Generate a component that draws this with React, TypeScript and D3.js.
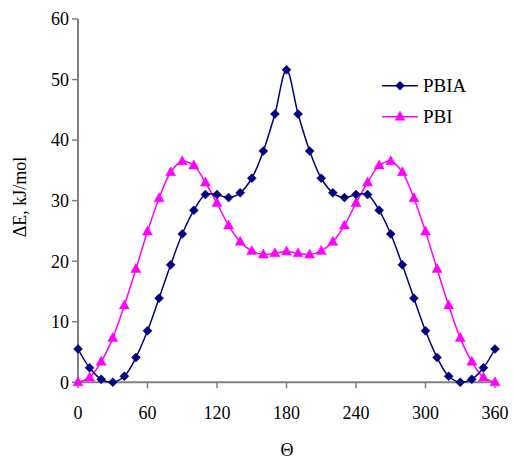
import React from "react";
import * as d3 from "d3";

const angles = [0,10,20,30,40,50,60,70,80,90,100,110,120,130,140,150,160,170,180,190,200,210,220,230,240,250,260,270,280,290,300,310,320,330,340,350,360];
const pbia = [5.5,2.4,0.5,0,1.0,4.1,8.5,13.9,19.4,24.5,28.4,31.0,31.0,30.5,31.3,33.7,38.2,44.3,51.6,44.3,38.2,33.7,31.3,30.5,31.0,31.0,28.4,24.5,19.4,13.9,8.5,4.1,1.0,0,0.5,2.4,5.5];
const pbi = [0,0.8,3.4,7.3,12.7,18.7,24.9,30.4,34.7,36.5,35.8,33.0,29.6,25.9,23.2,21.7,21.1,21.3,21.6,21.3,21.1,21.7,23.2,25.9,29.6,33.0,35.8,36.5,34.7,30.4,24.9,18.7,12.7,7.3,3.4,0.8,0];
const xTicks = [0,60,120,180,240,300,360];
const yTicks = [0,10,20,30,40,50,60];
const seriesNames = ["PBIA","PBI"];

export default function App() {
  const W = 513, H = 459;
  const x = d3.scaleLinear().domain([0, 360]).range([78, 495]);
  const y = d3.scaleLinear().domain([0, 60]).range([382.3, 19]);
  const line = d3.line<number>()
    .x((_, i) => x(angles[i]))
    .y((d) => y(d))
    .curve(d3.curveCatmullRom.alpha(0.5));
  const axisColor = "#808080";
  const ts = { fontFamily: '"Times New Roman", "Liberation Serif", "DejaVu Serif", serif' };
  const navy = "#000080";
  const mag = "#FF00FF";
  const diamond = (cx: number, cy: number, k: string | number) => (
    <path key={k} d={`M${cx},${cy - 4.5}L${cx + 4.5},${cy}L${cx},${cy + 4.5}L${cx - 4.5},${cy}Z`} fill={navy} stroke={navy} strokeWidth={0.5} />
  );
  const tri = (cx: number, cy: number, k: string | number) => (
    <path key={k} d={`M${cx},${cy - 5.5}L${cx + 5},${cy + 3.5}L${cx - 5},${cy + 3.5}Z`} fill={mag} stroke={mag} strokeWidth={0.5} />
  );
  return (
    <svg width={W} height={H} style={{ position: "absolute", left: 0, top: 0 }}>
      <rect width={W} height={H} fill="#fff" />
      <line x1={x(0)} x2={x(0)} y1={y(60)} y2={y(0)} stroke={axisColor} strokeWidth={2} />
      <line x1={x(0)} x2={x(360)} y1={y(0)} y2={y(0)} stroke={axisColor} strokeWidth={2} />
      {yTicks.map((t) => (
        <g key={"y" + t}>
          <line x1={x(0) - 6} x2={x(0)} y1={y(t)} y2={y(t)} stroke={axisColor} strokeWidth={1.5} />
          <text x={x(0) - 9} y={y(t)} dy="0.35em" textAnchor="end" fontSize={18} fill="#000" style={ts}>{t}</text>
        </g>
      ))}
      {xTicks.map((t) => (
        <g key={"x" + t}>
          <line x1={x(t)} x2={x(t)} y1={y(0)} y2={y(0) + 6} stroke={axisColor} strokeWidth={1.5} />
          <text x={x(t)} y={419} textAnchor="middle" fontSize={18} fill="#000" style={ts}>{t}</text>
        </g>
      ))}
      <text x={287} y={456} textAnchor="middle" fontSize={18} fill="#000" style={ts}>Θ</text>
      <text transform={`translate(26,197) rotate(-90)`} textAnchor="middle" fontSize={18} fill="#000" style={ts}>ΔE, kJ/mol</text>
      <path d={line(pbi) || ""} fill="none" stroke={mag} strokeWidth={1.5} />
      <path d={line(pbia) || ""} fill="none" stroke={navy} strokeWidth={1.5} />
      {pbi.map((v, i) => tri(x(angles[i]), y(v), "t" + i))}
      {pbia.map((v, i) => diamond(x(angles[i]), y(v), "d" + i))}
      <line x1={382} x2={418} y1={85.7} y2={85.7} stroke={navy} strokeWidth={1.5} />
      {diamond(400, 85.7, "ld")}
      <text x={423} y={85.7} dy="0.35em" fontSize={19} fill="#000" style={ts}>{seriesNames[0]}</text>
      <line x1={382} x2={418} y1={116.7} y2={116.7} stroke={mag} strokeWidth={1.5} />
      {tri(400, 116.7, "lt")}
      <text x={423} y={116.7} dy="0.35em" fontSize={19} fill="#000" style={ts}>{seriesNames[1]}</text>
    </svg>
  );
}
